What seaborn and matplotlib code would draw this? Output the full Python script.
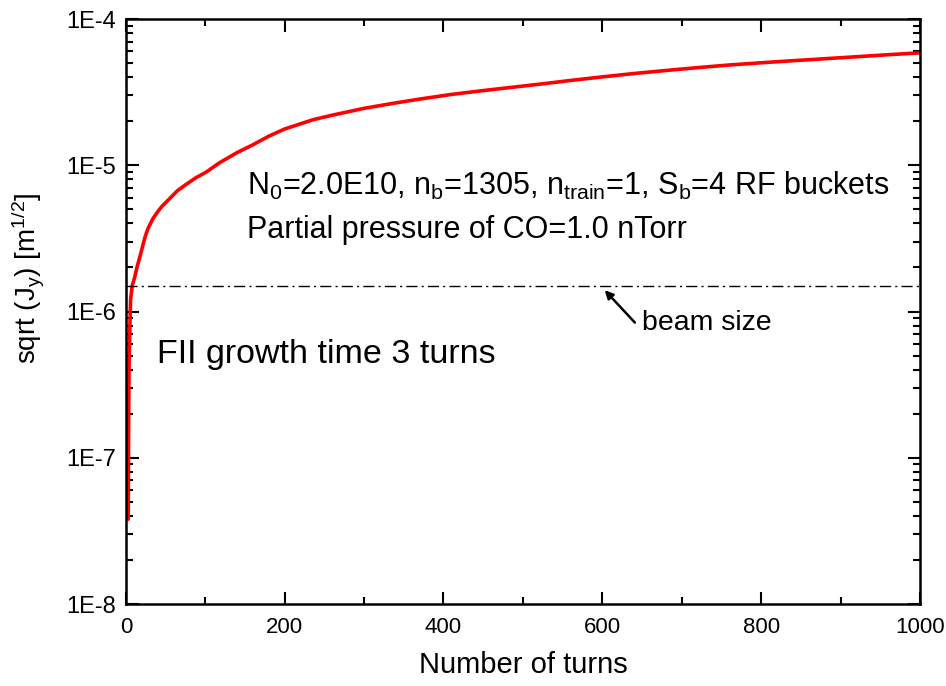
import numpy as np
import pandas as pd
import matplotlib
matplotlib.use('Agg')
import matplotlib.pyplot as plt
from matplotlib.ticker import LogLocator, MultipleLocator, NullFormatter, FixedLocator
import seaborn as sns

# Values
turns = [3, 3.5, 4, 5, 6, 8, 11, 14, 18, 24, 28, 34, 40, 45, 55, 65, 76, 88, 100, 104,
         118, 140, 160, 180, 200, 236, 260, 300, 340, 373, 410, 450, 490, 528, 560,
         600, 640, 681, 720, 760, 800, 836, 880, 920, 960, 1000]
sqrt_jy = [3.8e-8, 1.5e-7, 4.0e-7, 7.5e-7, 1.2e-6, 1.5e-6, 1.7e-6, 2.0e-6, 2.4e-6,
           3.2e-6, 3.7e-6, 4.3e-6, 4.8e-6, 5.2e-6, 5.9e-6, 6.7e-6, 7.4e-6, 8.2e-6,
           8.9e-6, 9.2e-6, 1.04e-5, 1.22e-5, 1.38e-5, 1.58e-5, 1.77e-5, 2.05e-5,
           2.2e-5, 2.45e-5, 2.67e-5, 2.85e-5, 3.05e-5, 3.24e-5, 3.43e-5, 3.62e-5,
           3.8e-5, 4.02e-5, 4.24e-5, 4.45e-5, 4.65e-5, 4.85e-5, 5.02e-5, 5.17e-5,
           5.35e-5, 5.52e-5, 5.7e-5, 5.87e-5]
beam_size = 1.5e-6
ytick_vals = [1e-8, 1e-7, 1e-6, 1e-5, 1e-4]
ytick_labels = ['1E-8', '1E-7', '1E-6', '1E-5', '1E-4']
xtick_vals = [0, 200, 400, 600, 800, 1000]

df = pd.DataFrame({'turns': turns, 'sqrt_jy': sqrt_jy})

sns.set_style('ticks')
plt.rcParams['font.family'] = ['Liberation Sans', 'DejaVu Sans']
plt.rcParams['mathtext.default'] = 'regular'
plt.rcParams['text.color'] = 'black'
plt.rcParams['axes.labelcolor'] = 'black'

fig = plt.figure(figsize=(9.46, 6.86), dpi=100)
ax = fig.add_axes([0.133, 0.1195, 0.8395, 0.8528])

sns.lineplot(data=df, x='turns', y='sqrt_jy', color='#ff0000', linewidth=2.6, ax=ax)
ax.axhline(beam_size, color='black', linewidth=1.0, linestyle=(0, (8, 3, 1.5, 3)))

ax.set_yscale('log')
ax.set_xlim(0, 1000)
ax.set_ylim(1e-8, 1e-4)
ax.yaxis.set_major_locator(FixedLocator(ytick_vals))
ax.set_yticks(ytick_vals)
ax.set_yticklabels(ytick_labels, fontsize=17)
ax.yaxis.set_minor_locator(LogLocator(base=10, subs=np.arange(2, 10)))
ax.yaxis.set_minor_formatter(NullFormatter())
ax.xaxis.set_minor_locator(MultipleLocator(100))
ax.set_xticks(xtick_vals)
ax.set_xticklabels([str(v) for v in xtick_vals], fontsize=16)

ax.tick_params(which='both', direction='in', top=True, right=True, width=1.5, colors='black')
ax.tick_params(which='major', length=9, pad=7)
ax.tick_params(which='minor', length=5)
ax.tick_params(axis='x', which='major', pad=9)
for s in ax.spines.values():
    s.set_linewidth(1.8)
    s.set_color('black')

ax.set_xlabel('Number of turns', fontsize=21, labelpad=10)
ax.set_ylabel(r'sqrt (J$_y$) [m$^{1/2}$]', fontsize=20)
ax.yaxis.set_label_coords(-0.100, 0.557)

ax.text(0.1526, 0.715, r'N$_0$=2.0E10, n$_b$=1305, n$_{train}$=1, S$_b$=4 RF buckets',
        transform=ax.transAxes, fontsize=22, va='center', ha='left')
ax.text(0.1526, 0.639, 'Partial pressure of CO=1.0 nTorr',
        transform=ax.transAxes, fontsize=22, va='center', ha='left')
ax.text(0.039, 0.426, 'FII growth time 3 turns', transform=ax.transAxes,
        fontsize=24.5, va='center', ha='left')
ax.annotate('', xy=(603, 1.4e-6), xytext=(641, 8.4e-7),
            arrowprops=dict(arrowstyle='-|>', color='black', lw=1.8,
                            mutation_scale=12, shrinkA=0, shrinkB=0))
ax.text(650, 8.3e-7, 'beam size', fontsize=20.5, va='center', ha='left')

fig.savefig('out.png', dpi=100)
